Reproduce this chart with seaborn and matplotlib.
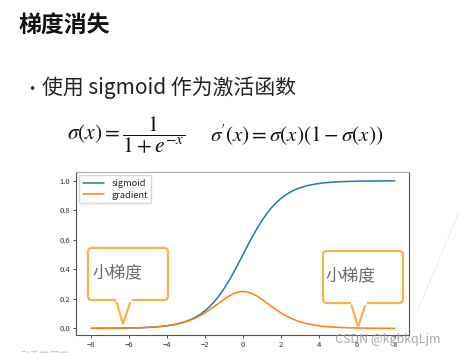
import numpy as np
import pandas as pd
import seaborn as sns
import matplotlib.pyplot as plt
from matplotlib.patches import FancyBboxPatch, Polygon

sns.set_style("ticks")
plt.rcParams['font.family'] = ['Noto Sans CJK SC', 'DejaVu Sans']
plt.rcParams['mathtext.fontset'] = 'stix'

# values, x from -8 to 8 in steps of 0.25
x_vals = [-8.0, -7.75, -7.5, -7.25, -7.0, -6.75, -6.5, -6.25, -6.0, -5.75,
          -5.5, -5.25, -5.0, -4.75, -4.5, -4.25, -4.0, -3.75, -3.5, -3.25,
          -3.0, -2.75, -2.5, -2.25, -2.0, -1.75, -1.5, -1.25, -1.0, -0.75,
          -0.5, -0.25, 0.0, 0.25, 0.5, 0.75, 1.0, 1.25, 1.5, 1.75, 2.0,
          2.25, 2.5, 2.75, 3.0, 3.25, 3.5, 3.75, 4.0, 4.25, 4.5, 4.75, 5.0,
          5.25, 5.5, 5.75, 6.0, 6.25, 6.5, 6.75, 7.0, 7.25, 7.5, 7.75, 8.0]
sigmoid_vals = [0.0003, 0.0004, 0.0006, 0.0007, 0.0009, 0.0012, 0.0015,
                0.0019, 0.0025, 0.0032, 0.0041, 0.0052, 0.0067, 0.0086,
                0.0110, 0.0141, 0.0180, 0.0230, 0.0293, 0.0373, 0.0474,
                0.0601, 0.0759, 0.0953, 0.1192, 0.1480, 0.1824, 0.2227,
                0.2689, 0.3208, 0.3775, 0.4378, 0.5000, 0.5622, 0.6225,
                0.6792, 0.7311, 0.7773, 0.8176, 0.8520, 0.8808, 0.9047,
                0.9241, 0.9399, 0.9526, 0.9627, 0.9707, 0.9770, 0.9820,
                0.9859, 0.9890, 0.9914, 0.9933, 0.9948, 0.9959, 0.9968,
                0.9975, 0.9981, 0.9985, 0.9988, 0.9991, 0.9993, 0.9994,
                0.9996, 0.9997]
gradient_vals = [0.0003, 0.0004, 0.0006, 0.0007, 0.0009, 0.0012, 0.0015,
                 0.0019, 0.0025, 0.0032, 0.0041, 0.0052, 0.0066, 0.0086,
                 0.0109, 0.0139, 0.0177, 0.0225, 0.0285, 0.0359, 0.0452,
                 0.0565, 0.0701, 0.0862, 0.1050, 0.1261, 0.1491, 0.1731,
                 0.1966, 0.2179, 0.2350, 0.2461, 0.2500, 0.2461, 0.2350,
                 0.2179, 0.1966, 0.1731, 0.1491, 0.1261, 0.1050, 0.0862,
                 0.0701, 0.0565, 0.0452, 0.0359, 0.0285, 0.0225, 0.0177,
                 0.0139, 0.0109, 0.0086, 0.0066, 0.0052, 0.0041, 0.0032,
                 0.0025, 0.0019, 0.0015, 0.0012, 0.0009, 0.0007, 0.0006,
                 0.0004, 0.0003]
x_ticks = [-8, -6, -4, -2, 0, 2, 4, 6, 8]
y_ticks = [0.0, 0.2, 0.4, 0.6, 0.8, 1.0]

df = pd.DataFrame({"x": x_vals, "sigmoid": sigmoid_vals, "gradient": gradient_vals})

fig = plt.figure(figsize=(4.6, 3.53), dpi=100)
fig.patch.set_facecolor("white")

ax = fig.add_axes([76 / 460, 1 - 335 / 353, (409 - 76) / 460, (335 - 172) / 353])
sns.lineplot(data=df, x="x", y="sigmoid", color="#1f77b4", lw=1.1, label="sigmoid", ax=ax)
sns.lineplot(data=df, x="x", y="gradient", color="#ff7f0e", lw=1.1, label="gradient", ax=ax)
ax.set_xlabel("")
ax.set_ylabel("")
ax.set_xticks(x_ticks)
ax.set_yticks(y_ticks)
ax.set_xlim(-8.8, 8.75)
ax.set_ylim(-0.045, 1.06)
ax.tick_params(labelsize=5.5, length=2.5, width=0.6, pad=1.5, colors="#333333")
for side, sp in ax.spines.items():
    sp.set_linewidth(0.8)
    sp.set_color("#555555")
ax.spines["top"].set_color("#aaaaaa")
ax.legend(loc="upper left", fontsize=6.6, frameon=True, handlelength=2.3,
          borderpad=0.4, labelspacing=0.3, borderaxespad=0.35)

# overlay in pixel coordinates for slide text and callouts
ov = fig.add_axes([0, 0, 1, 1], zorder=5)
ov.set_xlim(0, 460)
ov.set_ylim(353, 0)
ov.axis("off")
ov.patch.set_alpha(0)

ov.text(19, 25, "梯度消失", fontsize=16.5, fontweight="bold", color="#111111",
        va="center", ha="left")
ov.text(28, 90, "•", fontsize=9, color="#333333", va="center", ha="left",
        family="DejaVu Sans")
ov.text(42, 88, "使用 sigmoid 作为激活函数", fontsize=15, color="#222222",
        va="center", ha="left")
ov.text(67, 135, r"$\sigma(x)=\dfrac{1}{1+e^{-x}}$", fontsize=15.5, color="#111111",
        va="center", ha="left")
ov.text(210, 135, r"$\sigma^{\!\prime}(x)=\sigma(x)(1-\sigma(x))$", fontsize=15.2,
        color="#111111", va="center", ha="left")

orange = "#f9b04a"


def callout(x0, y0, x1, y1, b0, b1, tip, tx, ty):
    box = FancyBboxPatch((x0, y0), x1 - x0, y1 - y0,
                         boxstyle="round,pad=0,rounding_size=4",
                         facecolor="white", edgecolor=orange, lw=1.6)
    ov.add_patch(box)
    ov.plot([b0 + 1, b1 - 1], [y1, y1], color="white", lw=2.4)
    ov.add_patch(Polygon([(b0, y1), tip, (b1, y1)], closed=False,
                         facecolor="white", edgecolor=orange, lw=1.6,
                         joinstyle="miter"))
    ov.text(tx, ty, "小梯度", fontsize=12, color="#6b6b6b", va="center", ha="left")


callout(88, 248, 168, 300, 116, 131, (123, 324), 92, 273)
callout(323, 251, 403, 303, 351, 366, (358, 327), 325, 276)

ov.text(335, 339, "CSDN @kgbkqLjm", fontsize=9, color="#999999", va="center",
        ha="left", alpha=0.85)
ov.plot([417, 462], [312, 205], color="#e8e8e8", lw=0.6)
ov.text(21, 356, "动手学深度", fontsize=7, color="#9ec3e6", va="center", ha="left")

fig.savefig("out.png", dpi=100)
